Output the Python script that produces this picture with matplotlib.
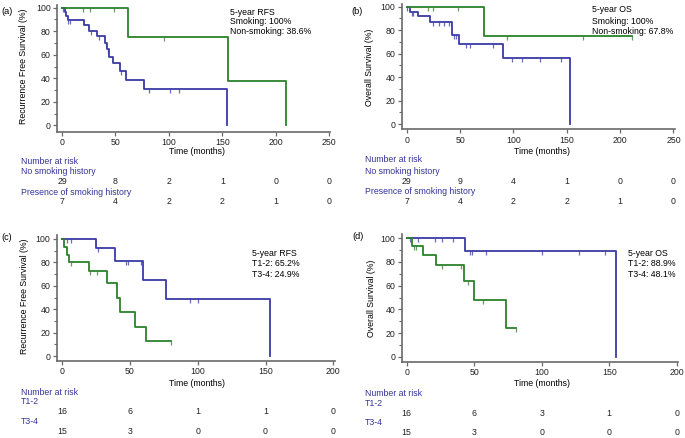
import numpy as np
import matplotlib
matplotlib.use("Agg")
import matplotlib.pyplot as plt
from matplotlib.transforms import blended_transform_factory

plt.rcParams['font.family'] = ['Liberation Sans', 'DejaVu Sans']

W, H = 685, 438
BLUE = '#3a3aa6'
GREEN = '#2b812b'
TXTBLUE = '#34349a'
FS = 6.3

# ---------------- data ----------------
# (a) Recurrence free survival by smoking history
a_nosmk_time = [0, 2.5, 4, 5.5, 21, 25.5, 33, 40, 41.7, 44, 48, 54, 60, 77, 154]
a_nosmk_surv = [100, 96.6, 93.1, 89.7, 85.5, 80.5, 76, 70, 65, 58, 53, 46, 38.6, 30.9, 0]
a_nosmk_cens = [1, 6, 7.5, 27, 34.5, 41, 43, 55, 81, 101, 109]
a_smk_time = [0, 62, 155.5, 210]
a_smk_surv = [100, 75, 37.5, 0]
a_smk_cens = [20, 26, 49, 95]

# (b) Overall survival by smoking history
b_nosmk_time = [0, 3.5, 11, 21.5, 42.2, 49.3, 90.6, 153.5]
b_nosmk_surv = [100, 95.7, 92.3, 87.3, 75.5, 67.8, 56.3, 0]
b_nosmk_cens = [0.5, 4.5, 6, 25, 30.5, 35, 39.5, 44, 46, 56, 59, 81, 99, 108, 125, 145]
b_smk_time = [0, 72.5, 211.5]
b_smk_surv = [100, 75, 75]
b_smk_cens = [19.5, 25, 48.5, 94, 165.5, 211.5]

# (c) Recurrence free survival by T stage
c_t12_time = [0, 24.8, 39.4, 59.4, 76.5, 153.5]
c_t12_surv = [100, 92, 81.5, 65.2, 48.7, 0]
c_t12_cens = [3.5, 7, 26.5, 47, 49, 58.5, 94.5, 100]
c_t34_time = [0, 1.7, 3.9, 5.2, 20.1, 33, 40.3, 42.6, 53.8, 61.7, 80.5]
c_t34_surv = [100, 93.3, 86.7, 80, 72.7, 62.2, 49.8, 37.3, 24.9, 12.4, 12.4]
c_t34_cens = [6.5, 21, 25.5, 39.5, 80.5]

# (d) Overall survival by T stage
d_t12_time = [0, 43.2, 155]
d_t12_surv = [100, 88.9, 0]
d_t12_cens = [2.5, 8, 21, 26, 34.5, 47, 48.5, 59, 100, 127.5, 147]
d_t34_time = [0, 4.2, 11.8, 21.7, 42.7, 49.9, 73.3, 81]
d_t34_surv = [100, 93.3, 85.7, 77.3, 64.1, 48.1, 24.1, 24.1]
d_t34_cens = [5.4, 6.9, 25.9, 40, 45.2, 56.3, 81]

ab_risk_times = [0, 50, 100, 150, 200, 250]
a_risk_nosmk = [29, 8, 2, 1, 0, 0]
a_risk_smk = [7, 4, 2, 2, 1, 0]
b_risk_nosmk = [29, 9, 4, 1, 0, 0]
b_risk_smk = [7, 4, 2, 2, 1, 0]
cd_risk_times = [0, 50, 100, 150, 200]
c_risk_t12 = [16, 6, 1, 1, 0]
c_risk_t34 = [15, 3, 0, 0, 0]
d_risk_t12 = [16, 6, 3, 1, 0]
d_risk_t34 = [15, 3, 0, 0, 0]

fig = plt.figure(figsize=(W / 100, H / 100), dpi=100)


def ftext(x, y, s, **kw):
    kw.setdefault('fontsize', FS)
    return fig.text(x / W, 1 - y / H, s, **kw)


def make_ax(x0px, ppm, xlim, y0px, y100px, ylim, xticks):
    ypp = (y0px - y100px) / 100.0
    left = x0px + xlim[0] * ppm
    right = x0px + xlim[1] * ppm
    top = y0px - ylim[1] * ypp
    bottom = y0px - ylim[0] * ypp
    ax = fig.add_axes([left / W, 1 - bottom / H, (right - left) / W, (bottom - top) / H])
    ax.set_xlim(*xlim)
    ax.set_ylim(*ylim)
    for s in ['top', 'right']:
        ax.spines[s].set_visible(False)
    for s in ['left', 'bottom']:
        ax.spines[s].set_color('#6a6a6a')
        ax.spines[s].set_linewidth(1.2)
    ax.set_xticks(xticks)
    ax.set_yticks([0, 20, 40, 60, 80, 100])
    ax.set_yticks([10, 30, 50, 70, 90], minor=True)
    ax.tick_params(axis='both', which='major', direction='out', length=3, width=0.9,
                   color='#6a6a6a', labelsize=FS, pad=1.5, labelcolor='#222222')
    ax.tick_params(axis='y', which='minor', direction='out', length=2, width=0.8, color='#6a6a6a')
    ax.patch.set_alpha(0)
    return ax


def km(ax, t, s, cens, color):
    ax.step(t, s, where='post', color=color, lw=1.3, clip_on=False, zorder=3)
    t = np.asarray(t, float)
    s = np.asarray(s, float)
    c = np.asarray(cens, float)
    idx = np.clip(np.searchsorted(t, c, side='right') - 1, 0, len(s) - 1)
    ax.plot(c, s[idx], linestyle='none', marker=3, markersize=3.2, mew=0.9,
            color=color, alpha=0.75, clip_on=False, zorder=3)


def risk_table(ax, times, row1, row2, lab1, lab2, xleft, ys):
    tr = blended_transform_factory(ax.transData, fig.transFigure)
    ftext(xleft, ys[0], 'Number at risk', color=TXTBLUE, va='center')
    ftext(xleft, ys[1], lab1, color=TXTBLUE, va='center')
    ftext(xleft, ys[3], lab2, color=TXTBLUE, va='center')
    for t, n1, n2 in zip(times, row1, row2):
        ax.text(t, 1 - ys[2] / H, str(n1), transform=tr, ha='center', va='center',
                fontsize=FS, color='#222222', clip_on=False)
        ax.text(t, 1 - ys[4] / H, str(n2), transform=tr, ha='center', va='center',
                fontsize=FS, color='#222222', clip_on=False)


# ---- panel (a)
axa = make_ax(62, 1.069, (-4.7, 251), 125.3, 7.7, (-5.4, 102.7), ab_risk_times)
km(axa, a_nosmk_time, a_nosmk_surv, a_nosmk_cens, BLUE)
km(axa, a_smk_time, a_smk_surv, a_smk_cens, GREEN)
ftext(1, 12, '(a)', va='center', fontsize=FS + 0.3)
ftext(24, 66, 'Recurrence Free Survival (%)', rotation=90, ha='center', va='center')
ftext(196.7, 151.5, 'Time (months)', ha='center', va='center')
ftext(230, 12.3, '5-year RFS', va='center')
ftext(230, 22, 'Smoking: 100%', va='center')
ftext(230, 32, 'Non-smoking: 38.6%', va='center')
risk_table(axa, ab_risk_times, a_risk_nosmk, a_risk_smk, 'No smoking history',
           'Presence of smoking history', 21, [161, 171.7, 182, 192.3, 202])

# ---- panel (b)
axb = make_ax(406.7, 1.067, (-4.7, 251), 124, 6.7, (-4.5, 102.5), ab_risk_times)
km(axb, b_nosmk_time, b_nosmk_surv, b_nosmk_cens, BLUE)
km(axb, b_smk_time, b_smk_surv, b_smk_cens, GREEN)
ftext(351.7, 12, '(b)', va='center', fontsize=FS + 0.3)
ftext(370, 67, 'Overall Survival (%)', rotation=90, ha='center', va='center')
ftext(541.7, 151, 'Time (months)', ha='center', va='center')
ftext(591.7, 10, '5-year OS', va='center')
ftext(591.7, 21, 'Smoking: 100%', va='center')
ftext(591.7, 31.5, 'Non-smoking: 67.8%', va='center')
risk_table(axb, ab_risk_times, b_risk_nosmk, b_risk_smk, 'No smoking history',
           'Presence of smoking history', 365, [160, 171, 181.3, 191.7, 202])

# ---- panel (c)
axc = make_ax(62, 1.357, (-3.9, 201), 356, 239, (-4, 103.4), cd_risk_times)
km(axc, c_t12_time, c_t12_surv, c_t12_cens, BLUE)
km(axc, c_t34_time, c_t34_surv, c_t34_cens, GREEN)
ftext(1, 237, '(c)', va='center', fontsize=FS + 0.3)
ftext(24.3, 296.7, 'Recurrence Free Survival (%)', rotation=90, ha='center', va='center')
ftext(196.7, 383.3, 'Time (months)', ha='center', va='center')
ftext(251.7, 254, '5-year RFS', va='center')
ftext(251.7, 264, 'T1-2: 65.2%', va='center')
ftext(251.7, 274.3, 'T3-4: 24.9%', va='center')
risk_table(axc, cd_risk_times, c_risk_t12, c_risk_t34, 'T1-2', 'T3-4', 21,
           [392.7, 402, 411.7, 421.7, 431.7])

# ---- panel (d)
axd = make_ax(406.7, 1.35, (-3.7, 201), 357, 238, (-4, 103.4), cd_risk_times)
km(axd, d_t12_time, d_t12_surv, d_t12_cens, BLUE)
km(axd, d_t34_time, d_t34_surv, d_t34_cens, GREEN)
ftext(352.7, 236.7, '(d)', va='center', fontsize=FS + 0.3)
ftext(371, 298, 'Overall Survival (%)', rotation=90, ha='center', va='center')
ftext(541.7, 384, 'Time (months)', ha='center', va='center')
ftext(628.3, 254, '5-year OS', va='center')
ftext(628.3, 264, 'T1-2: 88.9%', va='center')
ftext(628.3, 274.3, 'T3-4: 48.1%', va='center')
risk_table(axd, cd_risk_times, d_risk_t12, d_risk_t34, 'T1-2', 'T3-4', 365,
           [393.3, 403.3, 413.3, 422.7, 432.7])

fig.savefig('out.png', dpi=100)
